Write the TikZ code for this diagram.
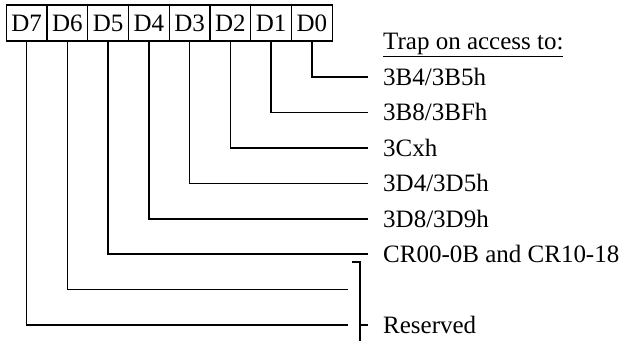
\documentclass[tikz,border=0pt]{standalone}
\usepackage{fontspec}
\setmainfont{Liberation Serif}
\begin{document}
\begin{tikzpicture}[x=1pt,y=1pt,
  bitcell/.style={draw,line width=1.4pt,minimum width=40.75pt,minimum height=36pt,inner sep=0pt,font=\fontsize{25}{30}\selectfont},
  lbl/.style={anchor=base west,inner sep=0pt,font=\fontsize{25}{30}\selectfont},
  wire/.style={line width=1.6pt}]
\useasboundingbox (0,0) rectangle (625,341);
\foreach \n [count=\i from 0] in {7,6,5,4,3,2,1,0}{
  \node[bitcell] (d\n) at ({6.2+40.75*(\i+0.5)},318) {D\n};
}
% label lines, y in px from top
\foreach \n/\yy/\xe in {0/77/368,1/112.4/368,2/147.9/368,3/183.3/368,4/218.7/368,5/254.1/368,6/289.6/348,7/325/348}{
  \coordinate (e\n) at (\xe,{341-\yy});
  \draw[wire] (d\n.south) |- (e\n);
}
\node[lbl] (title) at (383,{341-49.5}) {\underline{Trap on access to:}};
\node[lbl] (t0) at (383,{341-77-8.4}) {3B4/3B5h};
\node[lbl] (t1) at (383,{341-112.4-8.4}) {3B8/3BFh};
\node[lbl] (t2) at (383,{341-147.9-8.4}) {3Cxh};
\node[lbl] (t3) at (383,{341-183.3-8.4}) {3D4/3D5h};
\node[lbl] (t4) at (383,{341-218.7-8.4}) {3D8/3D9h};
\node[lbl] (t5) at (383,{341-254.1-8.4}) {CR00-0B and CR10-18};
\node[lbl] (t6) at (383,{341-325-8.4}) {Reserved};
% bracket
\coordinate (bt) at (352,{341-262});
\coordinate (bc) at (360,{341-262});
\coordinate (bb) at (360,0);
\coordinate (bm) at (360,{341-325});
\coordinate (bmr) at (368,{341-325});
\draw[wire] (bt) -- (bc) -- (bb);
\draw[wire] (bm) -- (bmr);
\end{tikzpicture}
\end{document}
